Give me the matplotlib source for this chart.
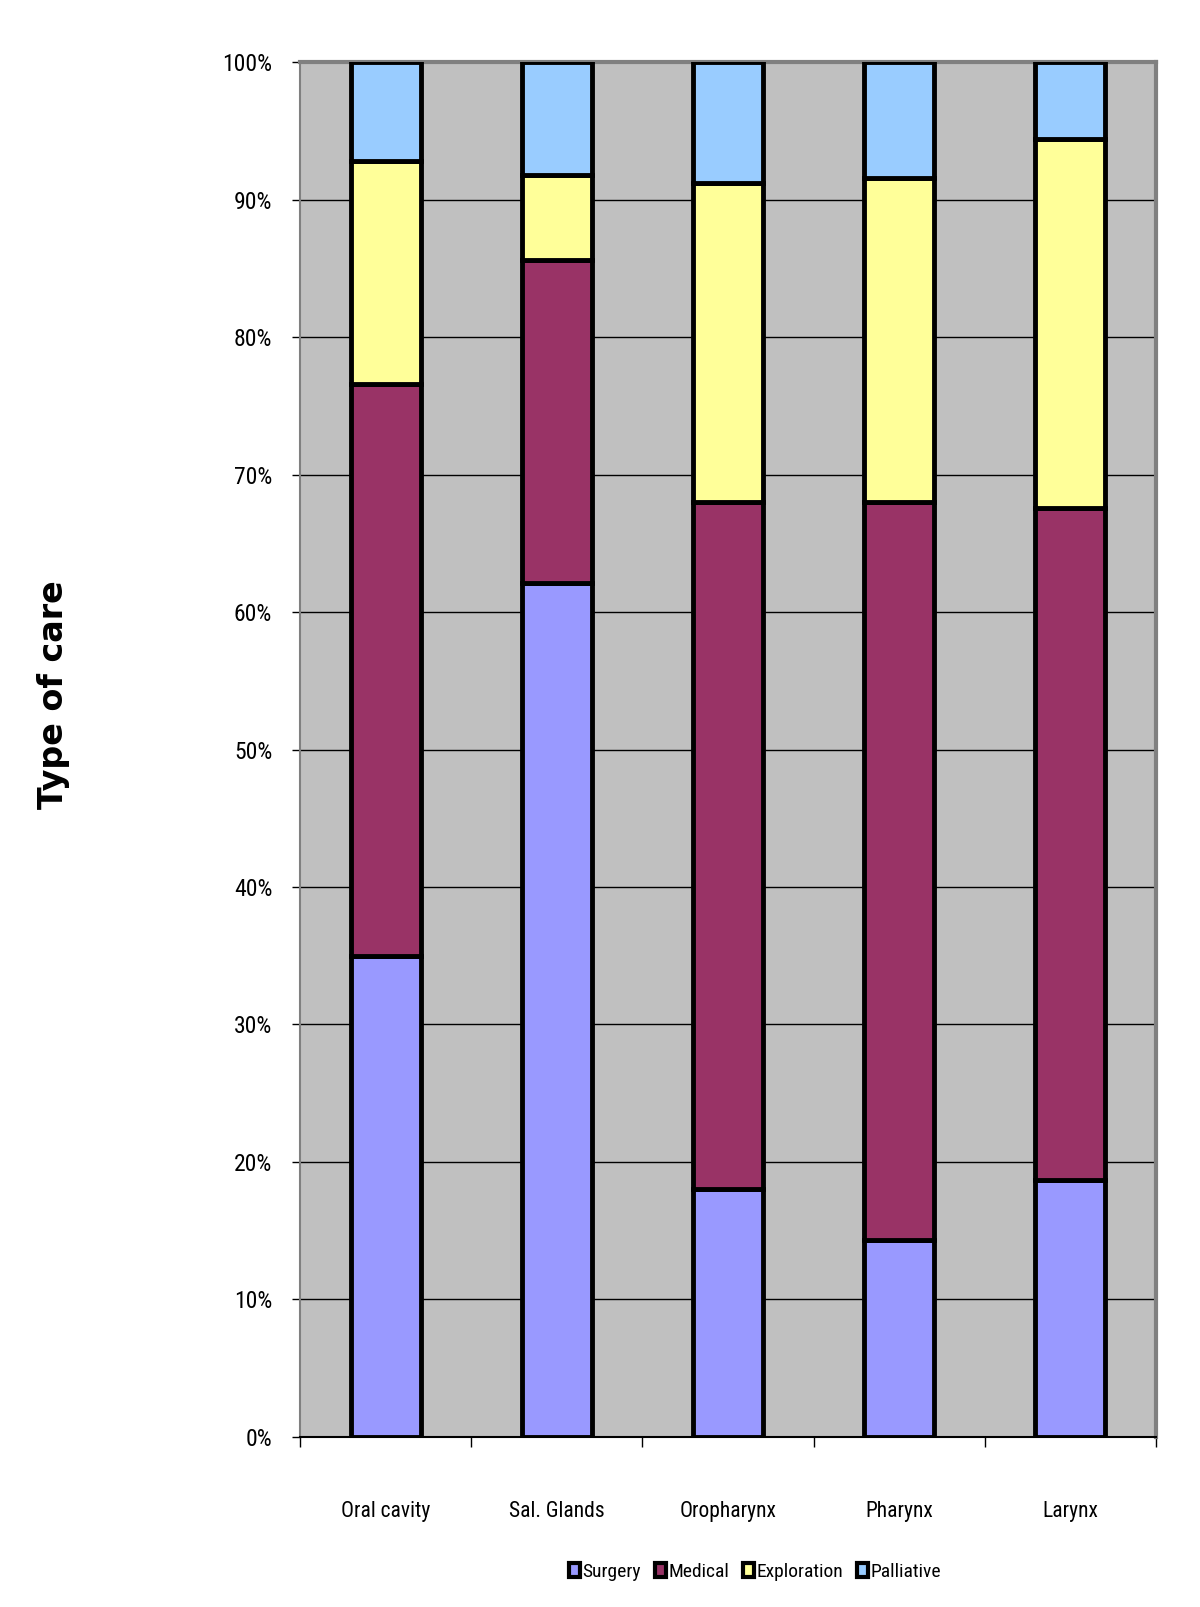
import numpy as np
from matplotlib import pyplot as plt
from matplotlib.patches import Patch
from matplotlib import font_manager

# data (percent of each site)
sites = ['Oral cavity', 'Sal. Glands', 'Oropharynx', 'Pharynx', 'Larynx']
surgery = [35.0, 62.1, 18.0, 14.3, 18.7]
medical = [41.6, 23.5, 50.0, 53.7, 48.9]
exploration = [16.2, 6.2, 23.2, 23.6, 26.8]
palliative = [7.2, 8.2, 8.8, 8.4, 5.6]
series_names = ['Surgery', 'Medical', 'Exploration', 'Palliative']
colors = ['#9999FF', '#993366', '#FFFF99', '#99CCFF']

# a narrow font if there is one, else plain sans at a smaller size
names = set(f.name for f in font_manager.fontManager.ttflist)
narrow = None
for n in ['Liberation Sans Narrow', 'Roboto Condensed', 'Open Sans Condensed', 'DejaVu Sans Condensed']:
    if n in names:
        narrow = n
        break
if narrow is None:
    narrow = 'Liberation Sans'
    k = 0.8
else:
    k = 1.0

fig = plt.figure(figsize=(12, 16.07), dpi=100)
ax = fig.add_axes([0.25, 0.1058, 0.7133, 0.8556])
ax.set_facecolor('#C0C0C0')

x = np.arange(len(sites))
bottom = np.zeros(len(sites))
for vals, col in zip([surgery, medical, exploration, palliative], colors):
    ax.bar(x, vals, 0.41, bottom=bottom, color=col, edgecolor='black', linewidth=3.5, zorder=3)
    bottom = bottom + np.array(vals)

ax.set_xlim(-0.5, 4.5)
ax.set_ylim(0, 100)
ax.set_yticks(np.arange(0, 101, 10))
ax.set_yticklabels([f'{v}%' for v in range(0, 101, 10)], family=narrow, fontsize=17 * k)
ax.yaxis.grid(True, color='black', linewidth=1)
ax.set_axisbelow(True)
ax.tick_params(axis='y', direction='out', length=6, width=1, pad=14)

ax.set_xticks(x)
ax.set_xticklabels(sites, family=narrow, fontsize=15.5 * k)
ax.tick_params(axis='x', which='major', length=0, pad=46)
ax.set_xticks(np.arange(-0.5, 5, 1), minor=True)
ax.tick_params(axis='x', which='minor', direction='out', length=7, width=1)

for s in ['top', 'right']:
    ax.spines[s].set_color('#808080')
    ax.spines[s].set_linewidth(3)
ax.spines['left'].set_color('#808080')
ax.spines['left'].set_linewidth(1.5)
ax.spines['bottom'].set_color('black')
ax.spines['bottom'].set_linewidth(1.5)

fig.text(0.045, 0.5675, 'Type of care', rotation=90, ha='center', va='center',
         fontsize=24, fontweight='bold', family='DejaVu Sans')

handles = [Patch(facecolor=c, edgecolor='black', linewidth=3) for c in colors]
fig.legend(handles, series_names, loc='center', bbox_to_anchor=(0.629, 0.022), ncol=4,
           frameon=False, handlelength=0.6, handleheight=0.8, handletextpad=0.1,
           columnspacing=0.7, prop={'family': narrow, 'size': 14 * k})

plt.savefig('out.png', dpi=100)
